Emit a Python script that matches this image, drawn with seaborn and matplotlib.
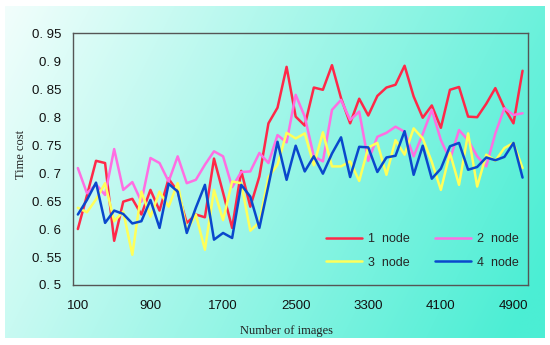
import numpy as np
import pandas as pd
import seaborn as sns
import matplotlib.pyplot as plt

# number of images (x axis)
images = [100, 200, 300, 400, 500, 600, 700, 800, 900, 1000,
          1100, 1200, 1300, 1400, 1500, 1600, 1700, 1800, 1900, 2000,
          2100, 2200, 2300, 2400, 2500, 2600, 2700, 2800, 2900, 3000,
          3100, 3200, 3300, 3400, 3500, 3600, 3700, 3800, 3900, 4000,
          4100, 4200, 4300, 4400, 4500, 4600, 4700, 4800, 4900, 5000]

# time cost per node count
node1 = [0.600, 0.660, 0.722, 0.718, 0.579, 0.649, 0.654, 0.626, 0.670, 0.633,
         0.690, 0.667, 0.611, 0.626, 0.621, 0.726, 0.665, 0.602, 0.704, 0.640,
         0.694, 0.789, 0.817, 0.890, 0.801, 0.785, 0.853, 0.849, 0.893, 0.834,
         0.789, 0.833, 0.803, 0.838, 0.853, 0.858, 0.892, 0.837, 0.799, 0.821,
         0.781, 0.849, 0.854, 0.801, 0.800, 0.824, 0.852, 0.816, 0.789, 0.883]
node2 = [0.709, 0.664, 0.680, 0.661, 0.743, 0.670, 0.684, 0.649, 0.727, 0.718,
         0.685, 0.730, 0.682, 0.688, 0.715, 0.739, 0.730, 0.675, 0.702, 0.703,
         0.736, 0.718, 0.768, 0.755, 0.840, 0.801, 0.730, 0.721, 0.813, 0.831,
         0.795, 0.810, 0.722, 0.765, 0.772, 0.783, 0.774, 0.730, 0.770, 0.813,
         0.759, 0.724, 0.777, 0.759, 0.730, 0.712, 0.771, 0.816, 0.804, 0.807]
node3 = [0.638, 0.630, 0.653, 0.682, 0.614, 0.631, 0.554, 0.667, 0.622, 0.667,
         0.640, 0.682, 0.597, 0.626, 0.563, 0.670, 0.616, 0.685, 0.682, 0.597,
         0.612, 0.693, 0.715, 0.772, 0.762, 0.771, 0.714, 0.773, 0.712, 0.712,
         0.721, 0.686, 0.746, 0.754, 0.697, 0.759, 0.733, 0.780, 0.762, 0.720,
         0.670, 0.736, 0.679, 0.771, 0.676, 0.733, 0.722, 0.745, 0.754, 0.709]
node4 = [0.626, 0.652, 0.683, 0.611, 0.633, 0.627, 0.610, 0.614, 0.652, 0.602,
         0.681, 0.667, 0.593, 0.638, 0.679, 0.581, 0.593, 0.584, 0.679, 0.658,
         0.602, 0.678, 0.756, 0.688, 0.749, 0.703, 0.730, 0.699, 0.735, 0.764,
         0.693, 0.747, 0.746, 0.702, 0.728, 0.731, 0.775, 0.697, 0.749, 0.690,
         0.708, 0.748, 0.754, 0.706, 0.711, 0.728, 0.723, 0.729, 0.754, 0.692]

labels = ["1  node", "2  node", "3  node", "4  node"]
colors = ["#ff2848", "#ff6ee2", "#ffff5a", "#0a48cc"]

xticks = [100, 900, 1700, 2500, 3300, 4100, 4900]
yticks = [0.5, 0.55, 0.6, 0.65, 0.7, 0.75, 0.8, 0.85, 0.9, 0.95]
ytick_labels = ["0. 5", "0. 55", "0. 6", "0. 65", "0. 7", "0. 75",
                "0. 8", "0. 85", "0. 9", "0. 95"]

df = pd.DataFrame({"images": images * 4,
                   "cost": node1 + node2 + node3 + node4,
                   "series": [l for l in labels for _ in images]})

sns.set_style("white")
plt.rcParams['font.family'] = ['Liberation Sans', 'DejaVu Sans']

fig = plt.figure(figsize=(5.5, 3.45), dpi=100)

# gradient background (white top-left -> aquamarine bottom-right)
bg = fig.add_axes([5 / 550, 7 / 345, 540 / 550, 332 / 345])
h, w = 200, 320
xx, yy = np.meshgrid(np.linspace(0, 1, w), np.linspace(0, 1, h))
t = np.clip(0.8 * xx + 0.25 * yy, 0, 1)[..., None]
c0 = np.array([242, 254, 252]) / 255
c1 = np.array([75, 238, 212]) / 255
bg.imshow(c0 + (c1 - c0) * t, aspect="auto", interpolation="bilinear")
bg.axis("off")

ax = fig.add_axes([0.132, 0.174, 0.828, 0.7295])
ax.set_zorder(1)
ax.patch.set_alpha(0)

sns.lineplot(data=df, x="images", y="cost", hue="series",
             palette=dict(zip(labels, colors)), linewidth=1.8, ax=ax)

ax.set_xlim(42, 5060)
ax.set_ylim(0.5, 0.95)
ax.set_xticks(xticks)
ax.set_xticklabels([str(v) for v in xticks])
ax.set_yticks(yticks)
ax.set_yticklabels(ytick_labels)
ax.tick_params(axis="both", length=0, labelsize=9.5, colors="#111111")
ax.tick_params(axis="y", pad=8)
ax.tick_params(axis="x", pad=11)

for s in ax.spines.values():
    s.set_color("#555555")
    s.set_linewidth(1.0)

ax.set_xlabel("Number of images", family="Liberation Serif", fontsize=9, color="#222222")
ax.set_ylabel("Time cost", family="Liberation Serif", fontsize=9, color="#222222")
ax.xaxis.set_label_coords(0.47, -0.16)
ax.yaxis.set_label_coords(-0.10, 0.52)

# legend filled row by row: 1 node, 2 node / 3 node, 4 node
handles, names = ax.get_legend_handles_labels()
order = [0, 2, 1, 3]
ax.legend([handles[i] for i in order], [names[i] for i in order],
          loc="center", bbox_to_anchor=(0.768, 0.135), ncol=2, frameon=False,
          fontsize=9, handlelength=2.9, handletextpad=0.5, columnspacing=2.0,
          labelspacing=0.9)

plt.savefig("out.png", dpi=100, facecolor="white")
